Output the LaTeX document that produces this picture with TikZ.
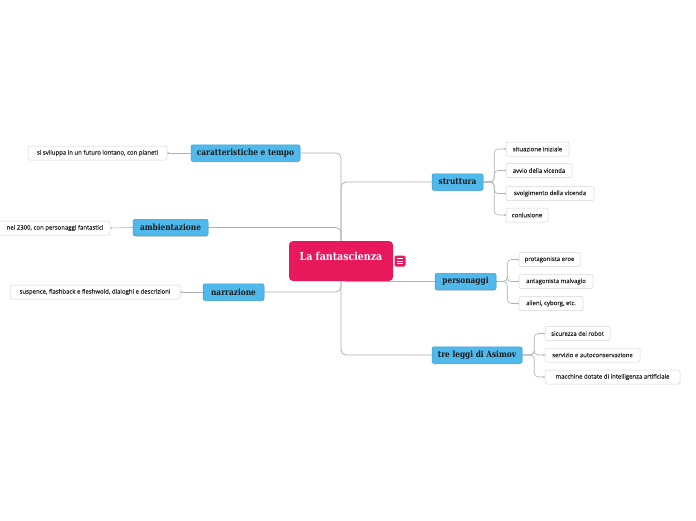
\documentclass[tikz,border=0pt]{standalone}
\usepackage{fontspec}
\setmainfont{Open Sans}
\newfontfamily\leaffont[FakeBold=0.4]{Open Sans}
\newfontfamily\slabfont[FakeStretch=0.86]{DejaVu Serif}
\usetikzlibrary{shadows,backgrounds,arrows.meta}
\definecolor{rootpink}{RGB}{232,24,92}
\definecolor{topicblue}{RGB}{80,185,235}
\definecolor{topicedge}{RGB}{58,158,212}
\definecolor{linkgray}{RGB}{178,178,178}
\definecolor{leafedge}{RGB}{212,212,212}
\begin{document}
\begin{tikzpicture}[x=1pt,y=-1pt,
    root/.style={fill=rootpink,rounded corners=4pt,minimum width=104pt,minimum height=40pt,
      text=white,font=\slabfont\bfseries\fontsize{11}{13}\selectfont},
    topic/.style={fill=topicblue,draw=topicedge,line width=0.5pt,rounded corners=2pt,minimum height=16.5pt,
      inner sep=0pt,font=\slabfont\bfseries\fontsize{8.6}{10}\selectfont,text=black!90,
      drop shadow={opacity=0.3,shadow xshift=0.4pt,shadow yshift=-1pt}},
    leaf/.style={fill=white,draw=leafedge,line width=0.5pt,rounded corners=2pt,minimum height=14pt,
      inner sep=0pt,font=\leaffont\fontsize{6.0}{7.2}\selectfont,text=black!85},
    link/.style={draw=linkgray,line width=0.8pt,rounded corners=5pt},
    leaflink/.style={draw=linkgray,line width=0.6pt,rounded corners=4pt,-{Circle[length=1.8pt]}}]
    \useasboundingbox(0,0)rectangle(696,520);
    \clip(0,0)rectangle(696,520);
    \node[root](root)at(341,261){\raisebox{10pt}{La fantascienza}};
    \node[fill=rootpink,rounded corners=1.5pt,minimum size=11pt,inner sep=0pt](note)at(400,261){};
    \foreach \dy in {-2.5,0,2.5}
      \draw[white,line width=0.7pt]([xshift=-3pt,yshift=\dy pt]note.center)--([xshift=3pt,yshift=\dy pt]note.center);
    \node[topic,minimum width=109pt](cara)at(245.5,153){caratteristiche e tempo};
    \node[topic,minimum width=75pt](ambi)at(170.5,227.5){ambientazione};
    \node[topic,minimum width=61pt](narr)at(233.5,292){narrazione};
    \node[topic,minimum width=51pt](strut)at(457.5,182){struttura};
    \node[topic,minimum width=61pt](perso)at(465.5,281.5){personaggi};
    \node[topic,minimum width=90pt](leggi)at(477,355){tre leggi di Asimov};
    \node[leaf,minimum width=139pt](lcara)at(97.5,153){si sviluppa in un futuro lontano, con pianeti};
    \node[leaf,minimum width=118pt](lambi)at(51,228){\hspace*{8pt}nel 2300, con personaggi fantastici};
    \node[leaf,minimum width=170pt](lnarr)at(95,292){suspence, flashback e fleshwold, dialoghi e descrizioni};
    \node[leaf,minimum width=63pt](s1)at(537.5,149){situazione iniziale};
    \node[leaf,minimum width=66pt](s2)at(539,170.5){avvio della vicenda};
    \node[leaf,minimum width=88pt](s3)at(550,193.5){svolgimento della vicenda};
    \node[leaf,minimum width=42pt](s4)at(527,215){conlusione};
    \node[leaf,minimum width=61pt](p1)at(549.5,259.5){protagonista eroe};
    \node[leaf,minimum width=74pt](p2)at(556,281.5){antagonista malvagio};
    \node[leaf,minimum width=64pt](p3)at(551,303.5){alieni, cyborg, etc.};
    \node[leaf,minimum width=65pt](t1)at(577.5,333.5){sicurezza dei robot};
    \node[leaf,minimum width=95pt](t2)at(592.5,355){servizio e autoconservazione};
    \node[leaf,minimum width=135pt](t3)at(612.5,377){macchine dotate di intelligenza artificiale};
    \coordinate(sj)at([xshift=11pt]strut.east);
    \coordinate(pj)at([xshift=11pt]perso.east);
    \coordinate(tj)at([xshift=12pt]leggi.east);
    \begin{scope}[on background layer]
      \fill[white](0,0)rectangle(696,520);
      \draw[link](cara.east)-|(root);
      \draw[link](ambi.east)-|(root);
      \draw[link](narr.east)-|(root);
      \draw[link](root)|-(strut.west);
      \draw[link](root)|-(perso.west);
      \draw[link](root)|-(leggi.west);
      \draw[leaflink](cara.west)--(lcara.east);
      \draw[leaflink](ambi.west)--(lambi.east);
      \draw[leaflink](narr.west)--(lnarr.east);
      \foreach \n in {s1,s2,s3,s4}
        \draw[leaflink](strut.east)--(sj)|-(\n.west);
      \foreach \n in {p1,p2,p3}
        \draw[leaflink](perso.east)--(pj)|-(\n.west);
      \foreach \n in {t1,t2,t3}
        \draw[leaflink](leggi.east)--(tj)|-(\n.west);
    \end{scope}
\end{tikzpicture}
\end{document}
